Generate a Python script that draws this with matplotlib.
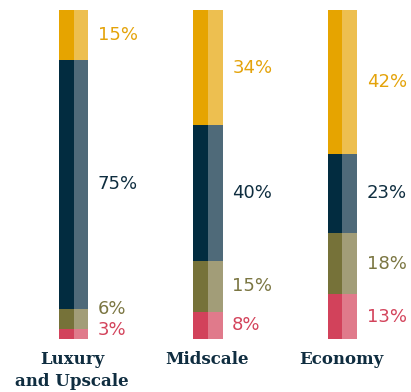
import numpy as np
from matplotlib import pyplot as plt

# shares per segment (bottom to top)
categories = ['Luxury\nand Upscale', 'Midscale', 'Economy']
segments = ['red', 'olive', 'navy', 'gold']
red_vals = [3, 8, 13]
olive_vals = [6, 15, 18]
navy_vals = [75, 40, 23]
gold_vals = [15, 34, 42]

dark = {'red': '#D2425B', 'olive': '#767239', 'navy': '#022C40', 'gold': '#E6A400'}
light = {'red': '#E07A8B', 'olive': '#A29D78', 'navy': '#4F6A79', 'gold': '#EDBF50'}
txt = {'red': '#D3435B', 'olive': '#7B7642', 'navy': '#0E2D3F', 'gold': '#E4A30A'}

vals = np.array([red_vals, olive_vals, navy_vals, gold_vals], dtype=float)
shares = vals / vals.sum(axis=0)  # bars are drawn full height

fig = plt.figure(figsize=(4.11, 3.92), dpi=100)
ax = fig.add_axes([0, 53/392, 1, 329/392])

x = np.arange(len(categories))
half = 0.108
bottom = np.zeros(len(categories))
# nudge for labels that would collide (points)
nudge = {(0, 0): 3, (0, 1): 7}
for i, seg in enumerate(segments):
    ax.bar(x - half/2, shares[i], half, bottom=bottom, color=dark[seg], lw=0)
    ax.bar(x + half/2, shares[i], half, bottom=bottom, color=light[seg], lw=0)
    for j in range(len(categories)):
        yc = bottom[j] + shares[i][j]/2
        ax.annotate(f'{vals[i][j]:.0f}%', (x[j] + half, yc),
                    xytext=(7, nudge.get((j, i), 0)), textcoords='offset points',
                    ha='left', va='center', fontsize=13, color=txt[seg])
    bottom += shares[i]

for j, c in enumerate(categories):
    ax.text(x[j] - 0.01, -12/329, c, ha='center', va='top',
            fontsize=12, fontweight='bold', family='DejaVu Serif',
            color='#0F2D40', linespacing=1.35)

ax.set_xlim(-73.5/134.5, (411-73.5)/134.5)
ax.set_ylim(0, 1)
ax.axis('off')
plt.savefig('out.png', dpi=100)
